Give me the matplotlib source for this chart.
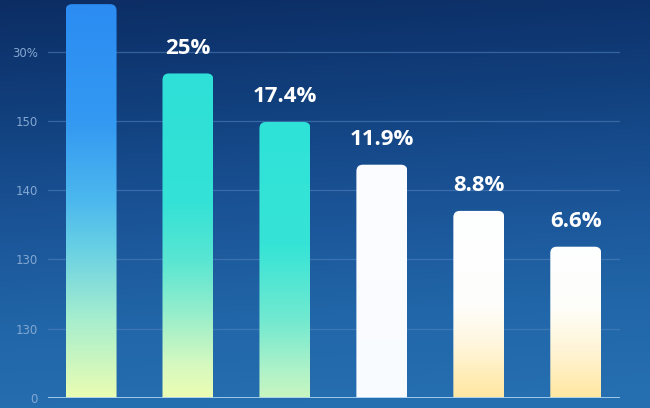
import numpy as np
import matplotlib.pyplot as plt
from matplotlib.colors import LinearSegmentedColormap, to_rgb
from matplotlib.patches import FancyBboxPatch

# ── Data ─────────────────────────────────────────────────────────────────────
bar_heights = [34.1, 28.1, 23.9, 20.2, 16.2, 13.1]
bar_labels = ["", "25%", "17.4%", "11.9%", "8.8%", "6.6%"]
tick_values = [0, 6, 12, 18, 24, 30]
tick_labels = ["0", "130", "130", "140", "150", "30%"]

# gradient stops for each bar, (position from top, colour)
BAR_GRADIENTS = [
    [(0, "#2c8cf2"), (0.3, "#3399f2"), (0.5, "#4cb8ee"), (0.62, "#68d0e4"),
     (0.8, "#a6eecf"), (1, "#eafdb2")],
    [(0, "#2ee0d8"), (0.4, "#34e2d6"), (0.58, "#5ae6d2"), (0.74, "#96eecc"),
     (0.9, "#d6f9bf"), (1, "#ecfdb3")],
    [(0, "#2ee2d8"), (0.45, "#36e4d6"), (0.72, "#72e9d0"), (0.9, "#aef2c8"),
     (1, "#c8f6c0")],
    [(0, "#fcfdff"), (1, "#f8fbff")],
    [(0, "#fdfeff"), (0.5, "#fefefc"), (0.72, "#fff6dc"), (0.88, "#ffedb8"),
     (1, "#ffe7a2")],
    [(0, "#fdfeff"), (0.4, "#fefefa"), (0.7, "#fff4d4"), (0.88, "#ffecb4"),
     (1, "#ffe6a0")],
]

W, H, DPI = 650, 408, 100
fig = plt.figure(figsize=(W / DPI, H / DPI), dpi=DPI)

# ── Background gradient ──────────────────────────────────────────────────────
bg = fig.add_axes([0, 0, 1, 1], zorder=0)
bg_cmap = LinearSegmentedColormap.from_list(
    "bg", ["#0c2d64", "#113f7c", "#1a5396", "#2166a8", "#2670b2"])
yy = np.linspace(0, 1, 256)[:, None]
xx = np.linspace(0, 1, 256)[None, :]
bg.imshow(yy + 0.08 * xx, cmap=bg_cmap, aspect="auto",
          extent=(0, 1, 0, 1), origin="upper", vmin=0, vmax=1.08)
bg.axis("off")

# ── Main axes ────────────────────────────────────────────────────────────────
left, right, bottom = 48, 620, 10
ax = fig.add_axes([left / W, bottom / H, (right - left) / W, (H - bottom) / H],
                  zorder=1)
ax.patch.set_alpha(0)

x = np.arange(len(bar_heights))
xlim = (-0.444, 5.456)
ylim = (0, 34.46)
bars = ax.bar(x, bar_heights, width=0.526, color="none", zorder=3)

px_x = (right - left) / (xlim[1] - xlim[0])
px_y = (H - bottom) / (ylim[1] - ylim[0])
aspect = px_x / px_y
r = 6.5 / px_x

for rect, stops, lab in zip(bars, BAR_GRADIENTS, bar_labels):
    x0, w, h = rect.get_x(), rect.get_width(), rect.get_height()
    clip = FancyBboxPatch((x0, -2), w, h + 2,
                          boxstyle=f"round,pad=0,rounding_size={r}",
                          mutation_aspect=aspect, transform=ax.transData,
                          facecolor="none", edgecolor="none")
    ax.add_patch(clip)
    cmap = LinearSegmentedColormap.from_list(
        "b", [(p, to_rgb(c)) for p, c in stops])
    ax.imshow(np.linspace(0, 1, 256)[:, None], cmap=cmap, aspect="auto",
              extent=(x0, x0 + w, 0, h), origin="upper", zorder=3,
              clip_path=clip)
    if lab:
        ax.text(rect.get_x() + w / 2, h + 2.2, lab, ha="center", va="center",
                color="white", fontsize=16, fontweight="bold",
                family="Open Sans", zorder=4)

ax.set_xlim(*xlim)
ax.set_ylim(*ylim)

for v in tick_values[1:]:
    ax.axhline(v, color="#5585c0", lw=0.9, alpha=0.55, zorder=1)
ax.axhline(0, color="#a9d2f2", lw=2.0, zorder=5)

ax.set_yticks(tick_values)
ax.set_yticklabels(tick_labels)
ax.tick_params(axis="y", length=0, pad=7.5, labelsize=8.5, labelcolor="#84a8d2")
ax.set_xticks([])
for s in ax.spines.values():
    s.set_visible(False)

fig.savefig("out.png", dpi=DPI)
